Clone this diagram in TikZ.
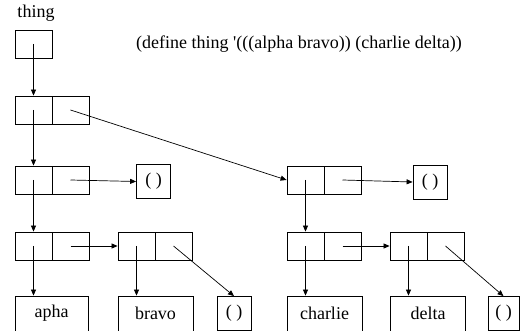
\documentclass[tikz,border=0pt]{standalone}
\usepackage{fontspec}
\setmainfont{Liberation Serif}
\newfontfamily\codefont{Liberation Serif}
\usetikzlibrary{arrows.meta}
\begin{document}
\begin{tikzpicture}[x=1pt,y=-1pt,
  txt/.style={font=\fontsize{18}{20}\selectfont},
  cell/.style={draw,line width=0.8pt,minimum width=37pt,minimum height=28pt,inner sep=0pt},
  nil/.style={draw,line width=0.8pt,minimum width=34pt,minimum height=34pt,inner sep=0pt,txt},
  leaf/.style={draw,line width=0.8pt,minimum height=35pt,inner sep=0pt,txt},
  ptr/.style={line width=0.7pt,-{Triangle[length=6pt,width=5pt]}},
  lbl/.style={inner sep=0pt,txt}]
\useasboundingbox (0,0) rectangle (520,331);
\node[lbl] (thinglbl) at (36,13) {thing};
\node[lbl] (code) at (299,44) {\codefont(define thing '(((alpha bravo)) (charlie delta))};
\node[cell] (top) at (33.5,44) {};
\node[cell] (r2a) at (33.5,110) {};
\node[cell] (r2b) at (70.5,110) {};
\node[cell] (r3a) at (33.5,180) {};
\node[cell] (r3b) at (70.5,180) {};
\node[nil] (n1) at (153.5,181.5) {( )};
\node[cell] (r4a) at (33.5,246) {};
\node[cell] (r4b) at (70.5,246) {};
\node[cell] (s4a) at (136.5,246) {};
\node[cell] (s4b) at (173.5,246) {};
\node[leaf,minimum width=73pt] (apha) at (51.5,313.5) {apha};
\node[leaf,minimum width=75pt] (bravo) at (155.5,313.5) {bravo};
\node[nil] (n3) at (234,313.5) {( )};
\node[cell] (R3a) at (305.5,180) {};
\node[cell] (R3b) at (342.5,180) {};
\node[nil] (n2) at (430,182) {( )};
\node[cell] (R4a) at (305.5,246) {};
\node[cell] (R4b) at (342.5,246) {};
\node[cell] (S4a) at (408.5,246) {};
\node[cell] (S4b) at (445.5,246) {};
\node[leaf,minimum width=75pt] (charlie) at (324.5,313.5) {charlie};
\node[leaf,minimum width=75pt] (delta) at (428,313.5) {delta};
\node[nil,minimum width=31pt] (n4) at (503.5,313.5) {( )};
\draw[ptr] (top.center) -- (r2a.north);
\draw[ptr] (r2a.center) -- (r3a.north);
\draw[ptr] (r2b.center) -- (R3a.west);
\draw[ptr] (r3b.center) -- (n1.west);
\draw[ptr] (r3a.center) -- (r4a.north);
\draw[ptr] (r4b.center) -- (s4a.west);
\draw[ptr] (r4a.center) -- (apha.north -| r4a.center);
\draw[ptr] (s4a.center) -- (bravo.north -| s4a.center);
\draw[ptr] (s4b.center) -- (n3.north);
\draw[ptr] (R3b.center) -- (n2.west);
\draw[ptr] (R3a.center) -- (R4a.north);
\draw[ptr] (R4a.center) -- (charlie.north -| R4a.center);
\draw[ptr] (R4b.center) -- (S4a.west);
\draw[ptr] (S4a.center) -- (delta.north -| S4a.center);
\draw[ptr] (S4b.center) -- (n4.north);
\end{tikzpicture}
\end{document}
